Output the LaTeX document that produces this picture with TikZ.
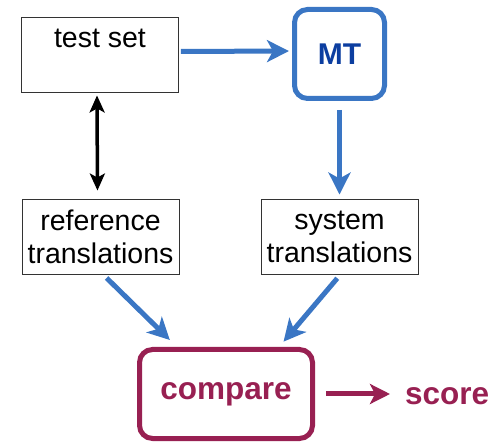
\documentclass[tikz,border=0pt]{standalone}
\usepackage{fontspec}
\setmainfont{Liberation Sans}
\usetikzlibrary{arrows.meta}

\definecolor{flowblue}{RGB}{58,118,196}
\definecolor{mtblue}{RGB}{12,62,160}
\definecolor{maroon}{RGB}{152,32,82}

\tikzset{
  plainbox/.style={draw=black!80, line width=0.9pt, minimum width=157pt, minimum height=75pt, inner sep=0pt},
  label28/.style={font=\fontsize{28.5}{33}\selectfont, align=center, inner sep=0pt},
  roundbox/.style={line width=5pt, rounded corners=13pt, inner sep=0pt},
  bluearrow/.style={draw=flowblue, line width=5pt, -{Stealth[length=22pt, width=22pt, inset=6pt]}},
  blackarrow/.style={draw=black, line width=3.5pt, {Stealth[length=17pt, width=15pt, inset=4pt]}-{Stealth[length=17pt, width=15pt, inset=4pt]}},
  maroonarrow/.style={draw=maroon, line width=5pt, -{Stealth[length=20pt, width=20pt, inset=5pt]}}
}

\begin{document}
\begin{tikzpicture}[x=1pt, y=-1pt]
  \useasboundingbox (0,0) rectangle (498,443);

  % boxes
  \node[plainbox] (testset) at (100,54.5) {};
  \node[label28, anchor=base] (testsettext) at (100,48) {test set};

  \node[roundbox, draw=flowblue, fill=white, minimum width=90pt, minimum height=89pt,
        font=\fontsize{30}{36}\selectfont\bfseries, text=mtblue] (MT) at (339.5,54) {MT};

  \node[plainbox, label28] (ref) at (100.5,236.5) {reference\\translations};
  \node[plainbox, label28] (sys) at (339.5,236.5) {system\\translations};

  \node[roundbox, draw=maroon, fill=white, minimum width=173pt, minimum height=89pt,
        font=\fontsize{31.5}{36}\selectfont\bfseries, text=maroon] (compare) at (226,394) {compare};

  \node[font=\fontsize{31.5}{36}\selectfont\bfseries, text=maroon, inner sep=0pt, anchor=base west]
        (score) at (405,405) {score};

  % connectors
  \draw[bluearrow, shorten <=2pt, shorten >=3pt] ([yshift=3pt]testset.east) -- ([yshift=3pt]MT.west);
  \draw[blackarrow, shorten <=3pt, shorten >=8pt] ([xshift=-3pt]testset.south) -- ([xshift=-3pt]ref.north);
  \draw[bluearrow, shorten <=9pt, shorten >=4pt] (MT.south) -- (sys.north);
  \draw[bluearrow, shorten <=5pt, shorten >=10pt] ([xshift=2.5pt]ref.south) -- ([xshift=-49pt]compare.north);
  \draw[bluearrow, shorten <=5pt, shorten >=7pt] ([xshift=1pt]sys.south) -- ([xshift=53pt]compare.north);
  \draw[maroonarrow, shorten <=11pt, shorten >=15pt] (compare.east) -- (compare.east -| score.west);
\end{tikzpicture}
\end{document}
